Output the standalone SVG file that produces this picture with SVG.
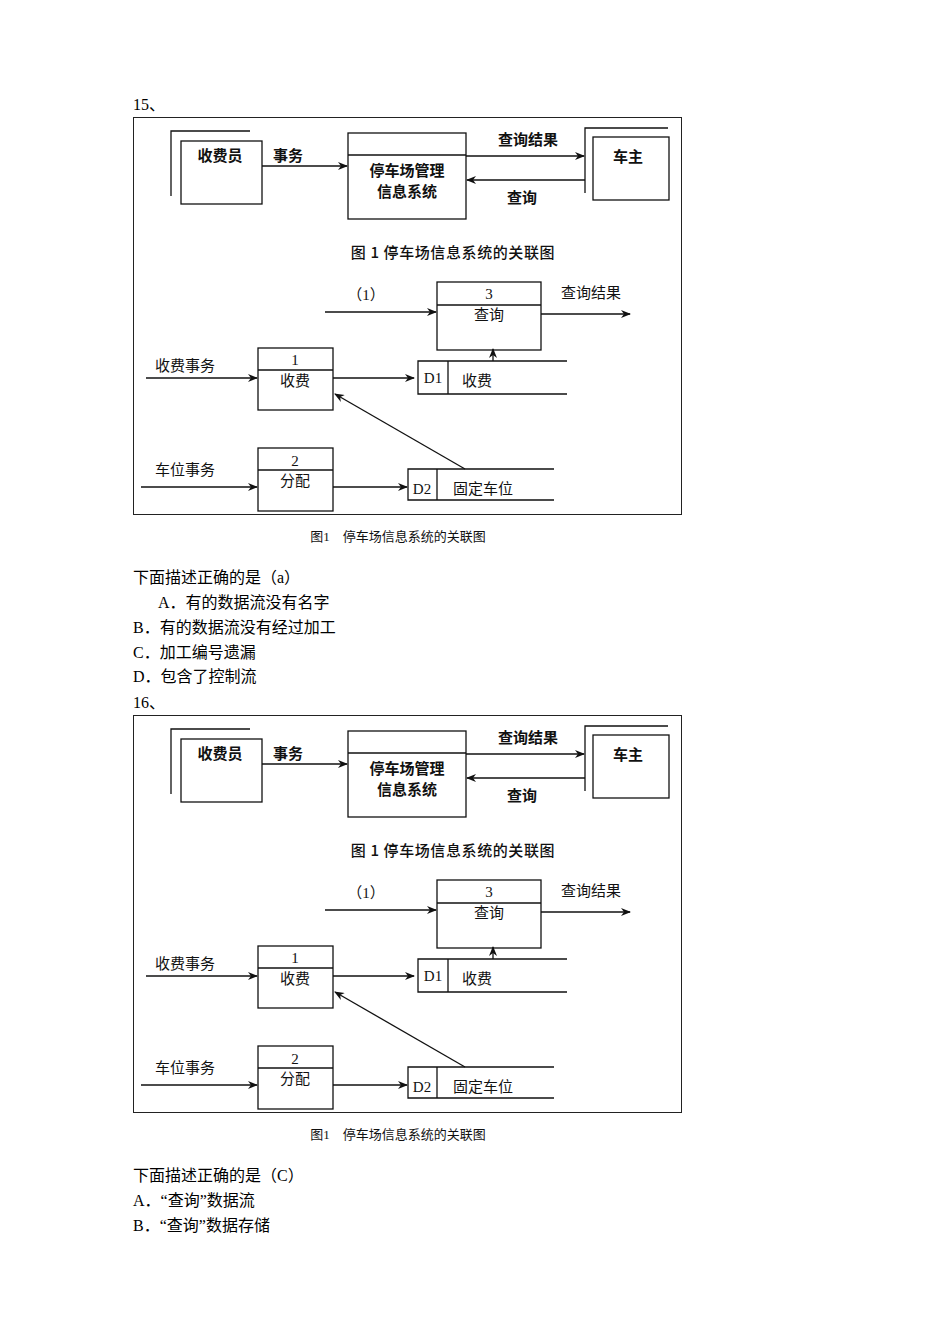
<svg xmlns="http://www.w3.org/2000/svg" xmlns:xlink="http://www.w3.org/1999/xlink" width="950" height="1344" viewBox="0 0 950 1344">
<style>
.t{font-family:"Liberation Serif","Noto Sans CJK SC",serif;font-size:16px;fill:#000}
.d{font-family:"Noto Sans CJK SC",sans-serif;font-size:15px;font-weight:bold;fill:#111;text-anchor:middle}
.n{font-family:"Noto Sans CJK SC",sans-serif;font-size:15px;fill:#111;text-anchor:middle}
.s{font-family:"Liberation Serif","Noto Sans CJK SC",serif;font-size:15px;fill:#111;text-anchor:middle}
.c{font-family:"Liberation Serif","Noto Sans CJK SC",serif;font-size:13px;fill:#111;text-anchor:middle}
.b{fill:#fff;stroke:#111;stroke-width:1.3}
.l{fill:none;stroke:#111;stroke-width:1.3}
</style>
<defs>
<marker id="a" markerWidth="10" markerHeight="8" refX="9" refY="4" orient="auto" markerUnits="userSpaceOnUse"><path d="M0,0 L10,4 L0,8 L3,4 z" fill="#111"/></marker>
<g id="dia">
<rect x="133.5" y="117.5" width="548" height="397" fill="#fff" stroke="#222" stroke-width="1"/>
<g id="n-cashier"><path class="l" d="M171,196 V131 H250"/><rect class="b" x="181" y="141" width="81" height="63"/><text class="d" x="220" y="161">收费员</text></g>
<g id="n-system"><rect class="b" x="348" y="133" width="118" height="86"/><line class="l" x1="348" y1="155" x2="466" y2="155"/><text class="d" x="407" y="176" font-size="13">停车场管理</text><text class="d" x="407" y="197" font-size="13">信息系统</text></g>
<g id="n-owner"><path class="l" d="M585,193 V128 H668"/><rect class="b" x="593" y="137" width="76" height="63"/><text class="d" x="628" y="162">车主</text></g>
<text class="n" x="453" y="258" font-size="15" font-weight="500" letter-spacing="0.6">图 1 停车场信息系统的关联图</text>
<g id="p3"><rect class="b" x="437" y="282" width="104" height="68"/><line class="l" x1="437" y1="305" x2="541" y2="305"/><text class="s" x="489" y="299">3</text><text class="n" x="489" y="320">查询</text></g>
<g id="p1"><rect class="b" x="258" y="348" width="75" height="62"/><line class="l" x1="258" y1="370" x2="333" y2="370"/><text class="s" x="295" y="365">1</text><text class="n" x="295" y="386">收费</text></g>
<g id="p2"><rect class="b" x="258" y="448" width="75" height="63"/><line class="l" x1="258" y1="470" x2="333" y2="470"/><text class="s" x="295" y="466">2</text><text class="n" x="295" y="486">分配</text></g>
<g id="d1"><path class="l" d="M567,361 H418 V394 H567 M448,361 V394"/><text class="s" x="433" y="383">D1</text><text class="n" x="477" y="386">收费</text></g>
<g id="d2"><path class="l" d="M554,469 H408 V500 H554 M437,469 V500"/><text class="s" x="422" y="494">D2</text><text class="n" x="483" y="494">固定车位</text></g>
<g id="conn">
<line class="l" x1="262" y1="166" x2="347" y2="166" marker-end="url(#a)"/>
<line class="l" x1="466" y1="156" x2="584" y2="156" marker-end="url(#a)"/>
<line class="l" x1="585" y1="180" x2="467" y2="180" marker-end="url(#a)"/>
<line class="l" x1="325" y1="312" x2="436" y2="312" marker-end="url(#a)"/>
<line class="l" x1="541" y1="314" x2="630" y2="314" marker-end="url(#a)"/>
<line class="l" x1="146" y1="378" x2="257" y2="378" marker-end="url(#a)"/>
<line class="l" x1="333" y1="378" x2="414" y2="378" marker-end="url(#a)"/>
<line class="l" x1="493" y1="361" x2="493" y2="349" marker-end="url(#a)"/>
<line class="l" x1="141" y1="487" x2="257" y2="487" marker-end="url(#a)"/>
<line class="l" x1="333" y1="487" x2="407" y2="487" marker-end="url(#a)"/>
<line class="l" x1="465" y1="469" x2="335" y2="394" marker-end="url(#a)"/>
</g>
<text class="d" x="288" y="161">事务</text>
<text class="d" x="528" y="145">查询结果</text>
<text class="d" x="522" y="203">查询</text>
<text class="s" x="366" y="300">（1）</text>
<text class="n" x="591" y="298">查询结果</text>
<text class="n" x="185" y="371">收费事务</text>
<text class="n" x="185" y="475">车位事务</text>
<text class="c" x="398" y="541">图1　停车场信息系统的关联图</text>
</g>
</defs>
<text class="t" x="133" y="110">15、</text>
<use xlink:href="#dia"/>
<text class="t" x="133" y="583">下面描述正确的是（a）</text>
<text class="t" x="158" y="608">A．有的数据流没有名字</text>
<text class="t" x="133" y="633">B．有的数据流没有经过加工</text>
<text class="t" x="133" y="658">C．加工编号遗漏</text>
<text class="t" x="133" y="682">D．包含了控制流</text>
<text class="t" x="133" y="708">16、</text>
<use xlink:href="#dia" transform="translate(0,598)"/>
<text class="t" x="133" y="1181">下面描述正确的是（C）</text>
<text class="t" x="133" y="1206">A．“查询”数据流</text>
<text class="t" x="133" y="1231">B．“查询”数据存储</text>
</svg>
